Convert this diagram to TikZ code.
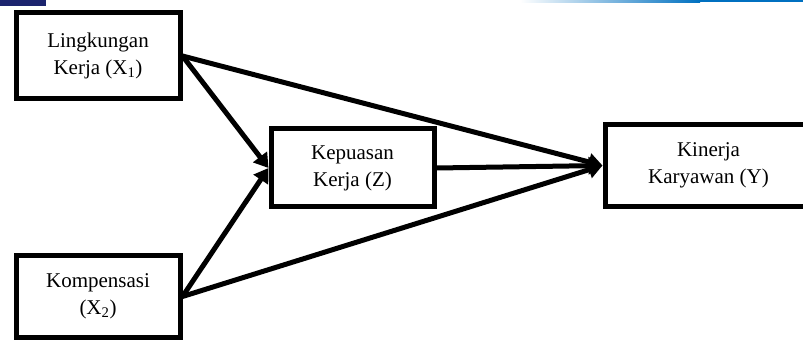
\documentclass[tikz,border=0pt]{standalone}
\usepackage{fontspec}
\setmainfont{Liberation Serif}
\usetikzlibrary{arrows.meta}
\definecolor{slideblue}{RGB}{0,112,192}
\definecolor{navyblk}{RGB}{28,36,110}
\begin{document}
\begin{tikzpicture}[x=1pt,y=-1pt,
  varbox/.style={draw=black,line width=5pt,fill=white,inner sep=0pt,align=center,
    font=\fontsize{21}{27}\selectfont},
  link/.style={line width=5pt,-{Triangle[length=14pt,width=17pt]}}]
\useasboundingbox (0,0) rectangle (803,347);
% slide artifacts
\fill[navyblk] (0,0) rectangle (46,6);
\shade[left color=white,right color=slideblue] (520,0) rectangle (700,2.5);
\fill[slideblue] (700,0) rectangle (803,2.5);
% boxes
\node[varbox,minimum width=164pt,minimum height=86pt] (x1) at (98,56) {Lingkungan\\Kerja (X\textsubscript{1})};
\node[varbox,minimum width=164pt,minimum height=81pt] (x2) at (98,296.5) {Kompensasi\\(X\textsubscript{2})};
\node[varbox,minimum width=163pt,minimum height=78pt] (z) at (352.5,168) {Kepuasan\\Kerja (Z)};
\node[varbox,minimum width=207pt,minimum height=82pt] (y) at (708.5,165.5) {Kinerja\\Karyawan (Y)};
% connectors
\draw[link] (x1.east) -- (z.west);
\draw[link] (x2.east) -- (z.west);
\draw[link] (x1.east) -- (y.west);
\draw[link] (x2.east) -- (y.west);
\draw[link] (z.east) -- (y.west);
\end{tikzpicture}
\end{document}
